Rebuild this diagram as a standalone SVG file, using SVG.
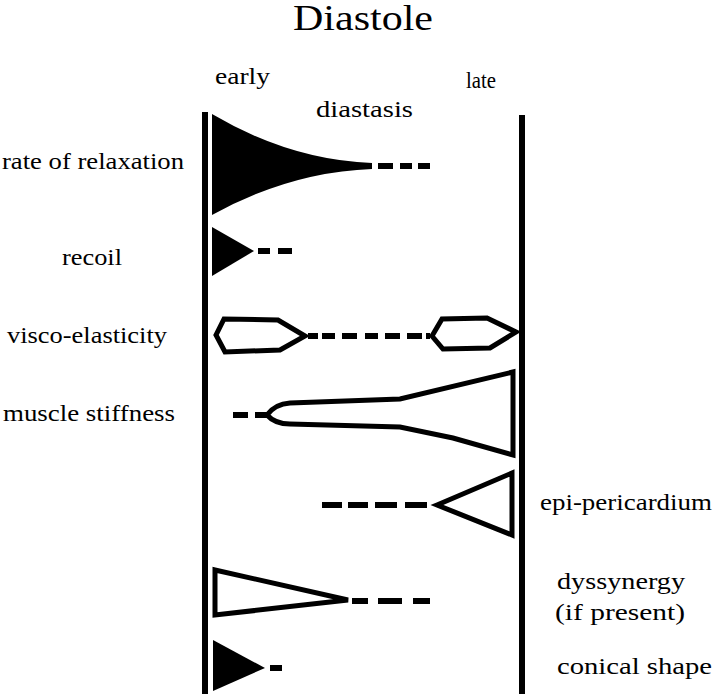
<svg xmlns="http://www.w3.org/2000/svg" width="713" height="694" viewBox="0 0 713 694">
<style>
text{font-family:"Liberation Serif","Times New Roman",serif;fill:#000;font-size:24px}
.title{font-size:35px}
.hdr{font-size:23px}
.out{fill:#fff;stroke:#000;stroke-width:5;stroke-linejoin:miter}
.sol{fill:#000;stroke:none}
.dash{stroke:#000;stroke-width:6;fill:none}
.axis{stroke:#000;stroke-width:6}
</style>
<rect width="713" height="694" fill="#fff"/>
<text class="title" x="293" y="30" textLength="140" lengthAdjust="spacingAndGlyphs">Diastole</text>
<text class="hdr" x="215" y="84" textLength="55" lengthAdjust="spacingAndGlyphs">early</text>
<text class="hdr" x="466" y="88" textLength="30" lengthAdjust="spacingAndGlyphs">late</text>
<text class="hdr" x="316" y="117" textLength="97" lengthAdjust="spacingAndGlyphs">diastasis</text>
<g id="axes">
<line class="axis" x1="205" y1="112" x2="205" y2="694"/>
<line class="axis" x1="522" y1="115" x2="522" y2="694"/>
</g>
<g id="rate-of-relaxation">
<text x="2" y="169" textLength="182" lengthAdjust="spacingAndGlyphs">rate of relaxation</text>
<path class="sol" d="M212,114 Q290,160 372,163 L372,169 Q290,172 212,215 Z"/>
</g>
<g id="recoil">
<text x="62" y="265" textLength="60" lengthAdjust="spacingAndGlyphs">recoil</text>
<path class="sol" d="M212,227 L254,251 L212,276 Z"/>
</g>
<g id="visco-elasticity">
<text x="7" y="343" textLength="160" lengthAdjust="spacingAndGlyphs">visco-elasticity</text>
<path class="out" d="M216,335 L224,319 L278,320 L305,336 L280,350 L225,352 Z"/>
<path class="out" d="M432,336 L442,319 L487,318 L516,332 L490,348 L443,349 Z"/>
</g>
<g id="muscle-stiffness">
<text x="3" y="421" textLength="172" lengthAdjust="spacingAndGlyphs">muscle stiffness</text>
<path class="out" d="M267,415 Q275,404 290,403 L400,399 L513,372 L513,455 L453,438 L400,427 L290,424 Q275,424 267,415 Z"/>
</g>
<g id="epi-pericardium">
<text x="540" y="510" textLength="172" lengthAdjust="spacingAndGlyphs">epi-pericardium</text>
<path class="out" d="M437,505 L512,473 L512,535 Z"/>
</g>
<g id="dyssynergy">
<text x="557" y="589" textLength="128" lengthAdjust="spacingAndGlyphs">dyssynergy</text>
<text x="555" y="620" textLength="130" lengthAdjust="spacingAndGlyphs">(if present)</text>
<path class="out" d="M215,570 L348,600 L215,615 Z"/>
</g>
<g id="conical-shape">
<text x="557" y="674" textLength="155" lengthAdjust="spacingAndGlyphs">conical shape</text>
<path class="sol" d="M213,640 L265,668 L213,691 Z"/>
</g>
<g id="connectors">
<path class="dash" d="M378,166 H393 M400,166 H412 M418,166 H430"/>
<path class="dash" d="M258,251 H270 M278,251 H292"/>
<path class="dash" d="M308,336 H318 M322,336 H335 M342,336 H357 M365,336 H378 M385,336 H400 M407,336 H422 M426,336 H430"/>
<path class="dash" d="M233,415 H248 M255,415 H267"/>
<path class="dash" d="M322,505 H342 M348,505 H368 M375,505 H397 M405,505 H427"/>
<path class="dash" d="M352,601 H368 M378,601 H402 M413,601 H430"/>
<path class="dash" d="M270,668 H282"/>
</g>
</svg>
